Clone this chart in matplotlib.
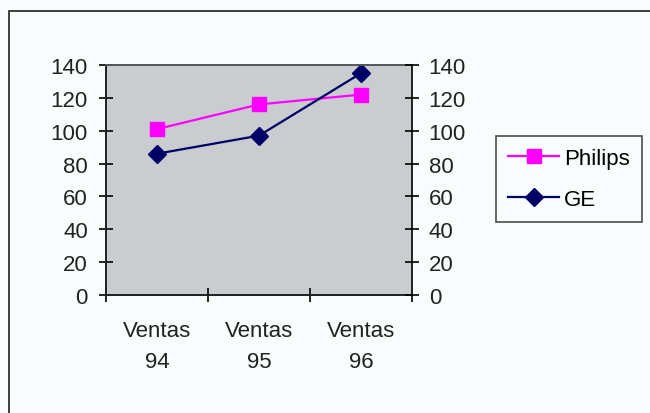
import matplotlib.pyplot as plt
import matplotlib.patches as mpatches

categories = ['Ventas\n94', 'Ventas\n95', 'Ventas\n96']
philips = [101, 116, 122]
ge = [86, 97, 135]
yticks = [0, 20, 40, 60, 80, 100, 120, 140]

plt.rcParams['font.family'] = ['Liberation Sans', 'DejaVu Sans']

fig = plt.figure(figsize=(6.5, 4.14), dpi=100, facecolor='#f8fcfc')
# outer chart border (cropped on right/bottom like the reference)
fig.patches.append(mpatches.Rectangle((9 / 650, -0.1), 1.0, 1 - 12 / 414 + 0.1,
                                      transform=fig.transFigure, fill=False,
                                      edgecolor='#202020', linewidth=1.2))

ax = fig.add_axes([106 / 650, 1 - 296 / 414, 306 / 650, 230 / 414])
ax.set_facecolor('#c9cdd0')
x = range(len(categories))
ax.plot(x, philips, color='#ff00ff', marker='s', markersize=10, linewidth=1.6, label='Philips')
ax.plot(x, ge, color='#000066', marker='D', markersize=9, linewidth=1.6, label='GE')

ax.set_xlim(-0.5, 2.5)
ax.set_ylim(0, 140)
ax.set_xticks([-0.5, 0.5, 1.5, 2.5])
ax.set_xticklabels([])
ax.set_xticks(list(x), minor=True)
ax.set_xticklabels(categories, minor=True, fontsize=16, color='#222222', linespacing=1.6)
ax.tick_params(axis='x', which='minor', length=0, pad=18)
ax.tick_params(axis='x', which='major', direction='inout', length=10, width=1.2)
ax.set_yticks(yticks)
ax.tick_params(axis='y', direction='inout', length=10, width=1.2, labelsize=16,
               labelcolor='#222222', pad=8)
for s in ax.spines.values():
    s.set_linewidth(1.4)
    s.set_color('#202020')
ax.spines['top'].set_color('#555555')

ax2 = ax.twinx()
ax2.set_ylim(0, 140)
ax2.set_yticks(yticks)
ax2.tick_params(axis='y', direction='inout', length=10, width=1.2, labelsize=16,
                labelcolor='#222222', pad=7)
for s in ax2.spines.values():
    s.set_visible(False)

handles, labels = ax.get_legend_handles_labels()
leg = fig.legend(handles, labels, loc='upper left',
                 bbox_to_anchor=(496 / 650, 1 - 137 / 414), fontsize=16,
                 frameon=True, fancybox=False, handlelength=2.3,
                 borderpad=0.55, labelspacing=0.9, handletextpad=0.2,
                 borderaxespad=0)
leg.get_frame().set_edgecolor('#202020')
leg.get_frame().set_facecolor('#f8fcfc')
leg.get_frame().set_linewidth(1.2)

fig.savefig('out.png', dpi=100, facecolor=fig.get_facecolor())
